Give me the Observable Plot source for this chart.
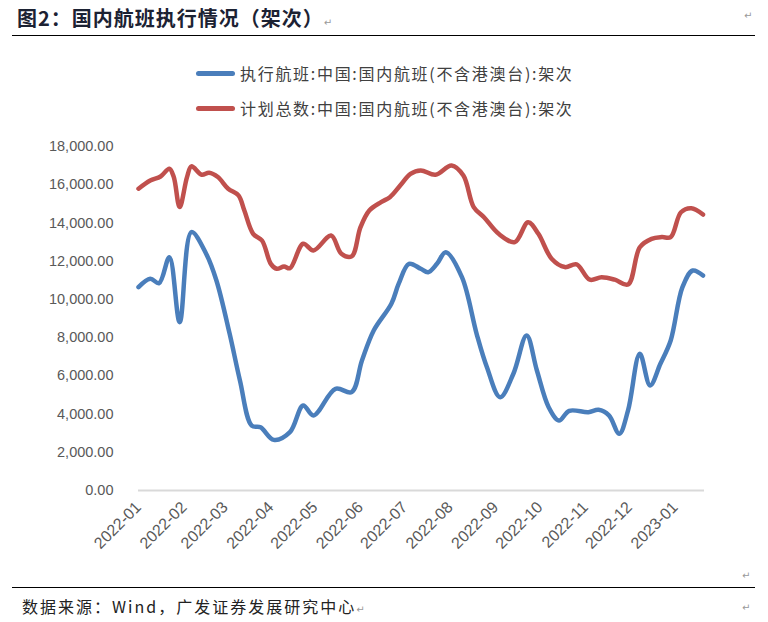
<!DOCTYPE html>
<html><head><meta charset="utf-8">
<script src="https://cdn.jsdelivr.net/npm/d3@7"></script>
<script src="https://cdn.jsdelivr.net/npm/@observablehq/plot@0.6"></script>
<style>
body{margin:0;background:#fff;}
#wrap{position:relative;width:768px;height:622px;overflow:hidden;background:#fff;font-family:"Noto Sans CJK SC","Noto Sans",sans-serif;}
#title{position:absolute;left:17px;top:3px;font-size:20px;font-weight:bold;color:#1c2233;letter-spacing:1px;white-space:nowrap;}
.ret{font-family:"DejaVu Sans",sans-serif;font-size:10px;color:#999;font-weight:normal;letter-spacing:0;}
.hr{position:absolute;height:0;border-top:1px solid #000;}
.leg{position:absolute;left:196px;height:24px;display:flex;align-items:center;white-space:nowrap;font-size:16px;color:#404040;letter-spacing:1.7px;}
.sw{width:39px;height:5px;border-radius:3px;margin-right:5px;}
#source{position:absolute;left:22px;top:594px;font-size:16px;color:#222;letter-spacing:2px;white-space:nowrap;}
#chart{position:absolute;left:0;top:130px;}
.mark{position:absolute;font-family:"DejaVu Sans",sans-serif;font-size:10px;color:#999;}
</style></head><body>
<div id="wrap">
  <div id="title">图2：国内航班执行情况（架次）<span class="ret">↵</span></div>
  <div class="mark" style="left:744px;top:10px;">↵</div>
  <div class="hr" style="left:12px;top:35px;width:743px;"></div>
  <div id="legend"></div>
  <div id="chart"></div>
  <div class="mark" style="left:742px;top:570px;">↵</div>
  <div class="hr" style="left:12px;top:587px;width:743px;"></div>
  <div id="source">数据来源：Wind，广发证券发展研究中心<span class="ret">↵</span></div>
  <div class="mark" style="left:742px;top:602px;">↵</div>
</div>
<script>
// ---- data ----
const seriesNames = ["执行航班:中国:国内航班(不含港澳台):架次", "计划总数:中国:国内航班(不含港澳台):架次"];
const seriesColors = ["#4a7ebb", "#c0504d"];

const execDates = ["2022-01-01","2022-01-09","2022-01-15","2022-01-22","2022-01-29","2022-02-06","2022-02-16","2022-02-23",
  "2022-03-04","2022-03-11","2022-03-19","2022-03-25","2022-04-03","2022-04-14","2022-04-23","2022-04-30","2022-05-15",
  "2022-05-26","2022-06-02","2022-06-10","2022-06-22","2022-06-27","2022-07-04","2022-07-12","2022-07-17","2022-07-23",
  "2022-07-29","2022-08-09","2022-08-19","2022-08-26","2022-09-04","2022-09-13","2022-09-22","2022-09-29","2022-10-07",
  "2022-10-14","2022-10-21","2022-11-03","2022-11-10","2022-11-17","2022-11-24","2022-11-30","2022-12-08","2022-12-15",
  "2022-12-22","2022-12-29","2023-01-06","2023-01-13","2023-01-20"];
const execValues = [10640,11080,10850,12210,8810,13520,12390,10990,
  8200,5760,3400,3310,2650,3050,4450,3930,5320,
  5150,6800,8370,9770,10820,11860,11600,11420,11860,
  12470,11160,8200,6450,4880,6110,8110,6280,4360,
  3660,4170,4100,4220,3930,2970,4190,7150,5500,
  6630,7850,10640,11510,11250];

const planDates = ["2022-01-01","2022-01-09","2022-01-16","2022-01-22","2022-01-25","2022-01-29","2022-02-03","2022-02-06",
  "2022-02-13","2022-02-18","2022-02-24","2022-03-03","2022-03-10","2022-03-14","2022-03-20","2022-03-26","2022-04-01",
  "2022-04-05","2022-04-10","2022-04-14","2022-04-23","2022-04-30","2022-05-12","2022-05-19","2022-05-26","2022-06-01",
  "2022-06-07","2022-06-15","2022-06-21","2022-06-28","2022-07-05","2022-07-12","2022-07-22","2022-08-02","2022-08-10",
  "2022-08-17","2022-08-24","2022-09-03","2022-09-14","2022-09-23","2022-09-30","2022-10-09","2022-10-18","2022-10-26",
  "2022-11-04","2022-11-12","2022-11-21","2022-11-30","2022-12-08","2022-12-16","2022-12-23","2022-12-29","2023-01-05",
  "2023-01-12","2023-01-20"];
const planValues = [15790,16220,16430,16840,16400,14830,16400,16960,
  16520,16630,16400,15790,15440,14650,13430,13080,11860,
  11600,11720,11630,12910,12560,13340,12390,12250,13780,
  14650,15090,15350,15960,16570,16750,16520,17010,16480,
  14830,14300,13430,13000,14040,13430,12130,11690,11830,
  11030,11160,11030,10780,12730,13170,13260,13260,14560,
  14770,14440];

const monthTicks = ["2022-01","2022-02","2022-03","2022-04","2022-05","2022-06","2022-07",
  "2022-08","2022-09","2022-10","2022-11","2022-12","2023-01"];
const yTicks = [0,2000,4000,6000,8000,10000,12000,14000,16000,18000];

// ---- build ----
const parse = d3.utcParse("%Y-%m-%d");
const execData = execDates.map((d,i)=>({date:parse(d), value:execValues[i]}));
const planData = planDates.map((d,i)=>({date:parse(d), value:planValues[i]}));

// legend
const legend = document.getElementById("legend");
seriesNames.forEach((name,i)=>{
  const item = document.createElement("div");
  item.className = "leg";
  item.style.top = (61 + i*35) + "px";
  item.innerHTML = `<div class="sw" style="background:${seriesColors[i]}"></div><span>${name}</span>`;
  legend.appendChild(item);
});

const chart = Plot.plot({
  width: 768,
  height: 450,
  marginLeft: 138,
  marginRight: 64,
  marginTop: 16,
  marginBottom: 90,
  style: {fontFamily: "'Liberation Sans', Arial, sans-serif", fontSize: "14.5px", color: "#595959", background: "transparent"},
  x: {type: "utc", domain: [parse("2022-01-01"), parse("2023-01-21")]},
  y: {domain: [0, 18000]},
  marks: [
    Plot.ruleY([0], {stroke: "#d9d9d9", strokeWidth: 2}),
    Plot.axisY({ticks: yTicks, tickFormat: d3.format(",.2f"), tickSize: 0, tickPadding: 25, label: null}),
    Plot.axisX({ticks: monthTicks.map(m => parse(m + "-01")), tickFormat: d3.utcFormat("%Y-%m"),
      tickSize: 0, tickPadding: 14, tickRotate: -45, fontSize: 16, label: null}),
    Plot.line(planData, {x: "date", y: "value", stroke: seriesColors[1], strokeWidth: 4.5, curve: "catmull-rom"}),
    Plot.line(execData, {x: "date", y: "value", stroke: seriesColors[0], strokeWidth: 4.5, curve: "catmull-rom"})
  ]
});
document.getElementById("chart").appendChild(chart);
</script>
</body></html>
